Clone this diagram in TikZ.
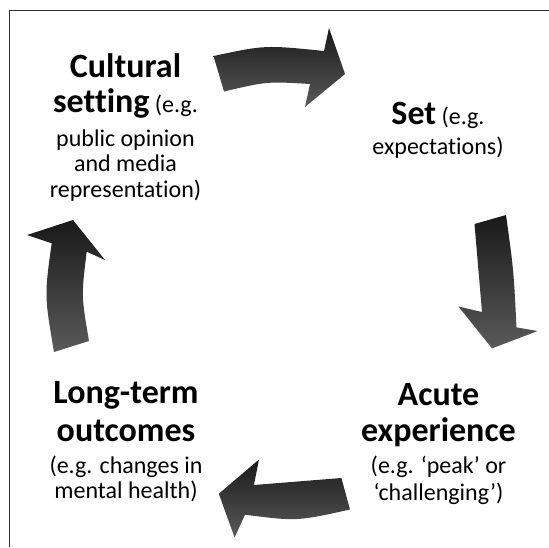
\documentclass[tikz,border=0pt]{standalone}
\usepackage{fontspec}
\setmainfont{Carlito}[Ligatures={TeX,NoCommon}]
\newcommand{\headtxt}[1]{{\fontsize{34}{36}\selectfont\bfseries #1}}

\begin{document}
\begin{tikzpicture}[x=1pt, y=-1pt,
  bigarrow/.style={top color=black!90, bottom color=black!65, draw=none},
  txtblock/.style={align=center, inner sep=0pt, anchor=north, font={\fontsize{24}{25.5}\selectfont\lineskiplimit=-50pt}},
  borderline/.style={draw=black!80, line width=1.2pt}]
  \useasboundingbox (0,0) rectangle (549,547);
  \draw[borderline] (9.5,547) -- (9.5,10.5) -- (549,10.5);

  \node[txtblock] (cult)  at (125.5,53) {\headtxt{Cultural}\\[9.5pt]\headtxt{setting} (e.g.\\[8.5pt]public opinion\\and media\\representation)};
  \node[txtblock] (set)   at (438,102)  {\headtxt{Set} (e.g.\\[4.5pt]expectations)};
  \node[txtblock] (acute) at (438.5,383) {\headtxt{Acute}\\[10.5pt]\headtxt{experience}\\[6.5pt](e.g. ‘peak’ or\\[1.5pt]‘challenging’)};
  \node[txtblock] (long)  at (126,381)  {\headtxt{Long-term}\\[12.5pt]\headtxt{outcomes}\\[6.5pt](e.g. changes in\\mental health)};

  \path[bigarrow] (213.5,56) .. controls (265,45) .. (324,51) -- (329,28) -- (345,74) -- (305,107) -- (310,84) .. controls (267,81.4) .. (224,91.5) -- cycle;
  \path[bigarrow] (506,215) .. controls (513.6,269.7) .. (516.5,327.4) -- (537.5,331) -- (492,348.4) -- (458.5,306.5) -- (482,312) .. controls (478.5,268) .. (474.5,224) -- cycle;
  \path[bigarrow] (341.4,478) .. controls (297.6,480.8) .. (253.9,485) -- (259,459.5) -- (218.8,493.7) -- (234.6,537.5) -- (245,514.7) .. controls (296.8,521.3) .. (350,509.5) -- cycle;
  \path[bigarrow] (54,352) .. controls (44.4,295.5) .. (51.7,243.3) -- (27,235) -- (73,220) -- (105,260) -- (86.7,251.7) .. controls (81.3,295.9) .. (89,341) -- cycle;
\end{tikzpicture}
\end{document}
